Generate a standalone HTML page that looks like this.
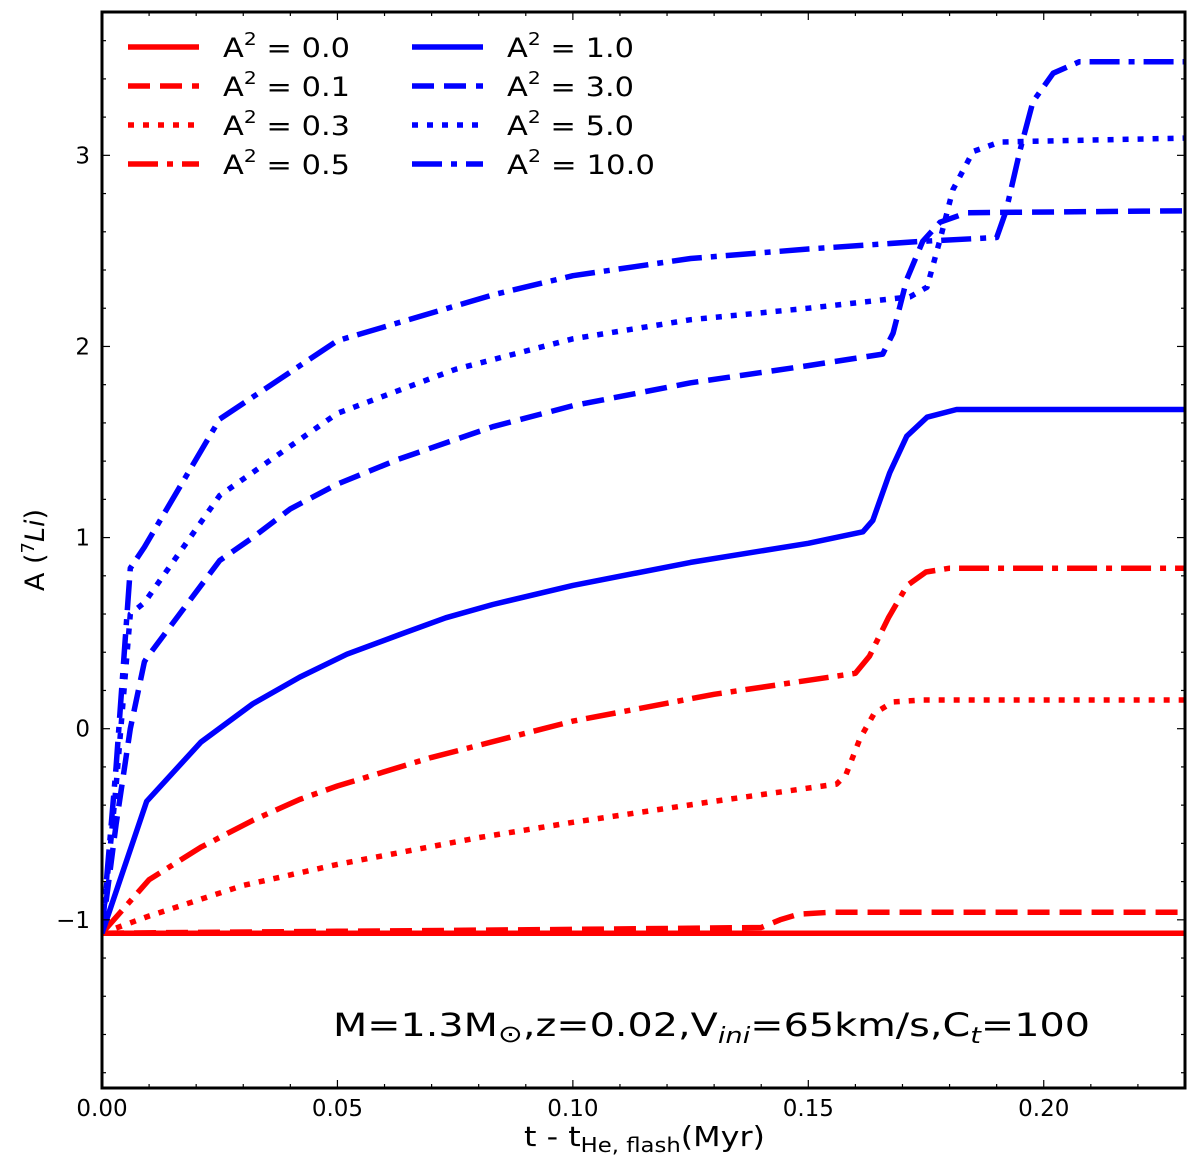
<!DOCTYPE html>
<html><head><meta charset="utf-8"><style>
body{margin:0;background:#fff;}
svg text{font-family:"DejaVu Sans","Liberation Sans",sans-serif;}
</style></head><body>
<svg id="chart" width="1200" height="1159" xmlns="http://www.w3.org/2000/svg">
<g id="plot"></g>
<g id="axes"></g>
<g id="legend"></g>
<text x="333" y="1036" font-size="32" fill="#000" textLength="757" lengthAdjust="spacingAndGlyphs">M=1.3M<tspan font-size="24" dy="6">⊙</tspan><tspan dy="-6">,z=0.02,V</tspan><tspan font-size="22" font-style="italic" dy="7">ini</tspan><tspan dy="-7">=65km/s,C</tspan><tspan font-size="22" font-style="italic" dy="7">t</tspan><tspan dy="-7">=100</tspan></text>
<text x="524" y="1146" font-size="28" fill="#000" textLength="241" lengthAdjust="spacingAndGlyphs">t - t<tspan font-size="20" dy="6">He, flash</tspan><tspan dy="-6">(Myr)</tspan></text>
<text transform="translate(44,550) rotate(-90)" font-size="27" text-anchor="middle" fill="#000">A (<tspan font-size="18" dy="-10">7</tspan><tspan font-style="italic" dy="10">Li</tspan>)</text>
</svg>
<script>
const xTicks=[0,0.05,0.10,0.15,0.20];
const xTickLabels=["0.00","0.05","0.10","0.15","0.20"];
const yTicks=[-1,0,1,2,3];
const yTickLabels=["−1","0","1","2","3"];
const seriesNames=["A2=0.0","A2=0.1","A2=0.3","A2=0.5","A2=1.0","A2=3.0","A2=5.0","A2=10.0"];
const legendLabels=["0.0","0.1","0.3","0.5","1.0","3.0","5.0","10.0"];
const t00=[0,0.23];
const v00=[-1.07,-1.07];
const t01=[0,0.05,0.10,0.14,0.144,0.148,0.155,0.23];
const v01=[-1.07,-1.06,-1.05,-1.04,-1.0,-0.97,-0.96,-0.96];
const t03=[0,0.01,0.03,0.05,0.08,0.10,0.13,0.156,0.158,0.161,0.164,0.168,0.174,0.23];
const v03=[-1.07,-0.98,-0.82,-0.71,-0.57,-0.49,-0.38,-0.29,-0.24,-0.05,0.08,0.14,0.15,0.15];
const t05=[0,0.01,0.021,0.032,0.042,0.05,0.07,0.10,0.13,0.160,0.163,0.167,0.171,0.175,0.18,0.23];
const v05=[-1.07,-0.79,-0.62,-0.48,-0.37,-0.30,-0.15,0.04,0.18,0.29,0.38,0.58,0.75,0.82,0.84,0.84];
const t10=[0,0.0095,0.021,0.032,0.042,0.052,0.063,0.073,0.083,0.10,0.125,0.15,0.1616,0.1637,0.1673,0.1709,0.1752,0.1815,0.23];
const v10=[-1.07,-0.38,-0.07,0.13,0.27,0.39,0.49,0.58,0.65,0.75,0.87,0.97,1.03,1.09,1.34,1.53,1.63,1.67,1.67];
const t30=[0,0.003,0.006,0.009,0.0095,0.025,0.032,0.04,0.05,0.063,0.083,0.10,0.125,0.15,0.1658,0.168,0.1709,0.1743,0.178,0.1837,0.23];
const v30=[-1.07,-0.5,0.0,0.35,0.37,0.88,1.0,1.15,1.28,1.41,1.58,1.69,1.81,1.90,1.96,2.07,2.35,2.55,2.65,2.70,2.71];
const t50=[0,0.003,0.006,0.009,0.025,0.05,0.075,0.10,0.125,0.15,0.1716,0.1752,0.178,0.1807,0.185,0.1907,0.23];
const v50=[-1.07,-0.3,0.6,0.66,1.22,1.65,1.88,2.04,2.14,2.20,2.26,2.31,2.56,2.82,3.02,3.07,3.09];
const t100=[0,0.003,0.006,0.009,0.025,0.05,0.083,0.10,0.125,0.15,0.1743,0.19,0.192,0.195,0.1977,0.202,0.2076,0.23];
const v100=[-1.07,-0.2,0.84,0.95,1.62,2.03,2.27,2.37,2.46,2.51,2.55,2.57,2.71,3.03,3.28,3.43,3.49,3.49];

const X0=102,X1=1185,Y0=12,Y1=1088,XMIN=0,XMAX=0.23,YMIN=-1.88,YMAX=3.75;
const xs=t=>X0+(t-XMIN)/(XMAX-XMIN)*(X1-X0);
const ys=v=>Y1-(v-YMIN)/(YMAX-YMIN)*(Y1-Y0);
const NS="http://www.w3.org/2000/svg";
const mk=(tag,attrs,parent)=>{const e=document.createElementNS(NS,tag);for(const k in attrs)e.setAttribute(k,attrs[k]);parent.appendChild(e);return e;};
const plot=document.getElementById('plot'),axes=document.getElementById('axes'),legend=document.getElementById('legend');
const RED="#ff0000",BLUE="#0000ff";
const dashes={solid:"",dashed:"22,10",dotted:"6,9",dashdot:"30,9,6,9"};
const series=[[t00,v00,RED,"solid"],[t01,v01,RED,"dashed"],[t03,v03,RED,"dotted"],[t05,v05,RED,"dashdot"],[t10,v10,BLUE,"solid"],[t30,v30,BLUE,"dashed"],[t50,v50,BLUE,"dotted"],[t100,v100,BLUE,"dashdot"]];
mk('clipPath',{id:'clip'},plot);
mk('rect',{x:X0,y:Y0,width:X1-X0,height:Y1-Y0},plot.firstChild);
series.forEach((s,i)=>{
  const d=s[0].map((t,j)=>(j?'L':'M')+xs(t).toFixed(1)+','+ys(s[1][j]).toFixed(1)).join(' ');
  const p=mk('path',{d:d,fill:'none',stroke:s[2],'stroke-width':5.5,'stroke-linejoin':'round','stroke-dasharray':dashes[s[3]],'clip-path':'url(#clip)'},plot);
  
  
  const col=i<4?0:1,row=i%4;
  const lx=col?412:128,ly=47+row*39;
  const g=mk('g',{},legend);
  
  
  mk('line',{x1:lx,x2:lx+71,y1:ly,y2:ly,stroke:s[2],'stroke-width':5.5,'stroke-dasharray':dashes[s[3]]},g);
  const tl=legendLabels[i].length>3?148:127;
  const tx=mk('text',{x:lx+95,y:ly+10,'font-size':27,fill:'#000',textLength:tl,lengthAdjust:'spacingAndGlyphs'},g);
  tx.innerHTML='A<tspan font-size="18" dy="-12">2</tspan><tspan dy="12"> = '+legendLabels[i]+'</tspan>';
});
const fr=mk('rect',{x:X0,y:Y0,width:X1-X0,height:Y1-Y0,fill:'none',stroke:'#000','stroke-width':3},axes);


for(let k=0;k<=23;k++){const t=k*0.01,x=xs(t),maj=(k%5===0);
  mk('line',{x1:x,x2:x,y1:Y1,y2:Y1-(maj?8:4),stroke:'#000','stroke-width':1.2},axes);
  mk('line',{x1:x,x2:x,y1:Y0,y2:Y0+(maj?8:4),stroke:'#000','stroke-width':1.2},axes);}
xTicks.forEach((t,i)=>{const e=mk('text',{x:xs(t),y:Y1+28,'font-size':23,'text-anchor':'middle',fill:'#000'},axes);e.textContent=xTickLabels[i];
  });
for(let k=-9;k<=18;k++){const v=k*0.2,y=ys(v),maj=(k%5===0);if(y<Y0||y>Y1)continue;
  mk('line',{x1:X0,x2:X0+(maj?8:4),y1:y,y2:y,stroke:'#000','stroke-width':1.2},axes);
  mk('line',{x1:X1,x2:X1-(maj?8:4),y1:y,y2:y,stroke:'#000','stroke-width':1.2},axes);}
yTicks.forEach((v,i)=>{const e=mk('text',{x:X0-12,y:ys(v)+8,'font-size':23,'text-anchor':'end',fill:'#000'},axes);e.textContent=yTickLabels[i];
  });
</script>
</body></html>
